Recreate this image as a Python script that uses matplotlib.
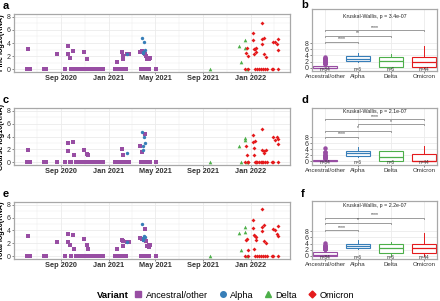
import pandas as pd
import matplotlib.pyplot as plt
import matplotlib.dates as mdates
from matplotlib.lines import Line2D

plt.rcParams['font.family'] = ['Liberation Sans', 'DejaVu Sans']

variants = ['Ancestral/other', 'Alpha', 'Delta', 'Omicron']
colors = ['#984EA3', '#377EB8', '#4DAF4A', '#E41A1C']
markers = ['s', 'o', '^', 'D']
n_labels = ['n=84', 'n=6', 'n=6', 'n=44']

# ---- time series data (one entry per sample: fine / coarse / total) ----
anc_dates = ['2020-06-05', '2020-06-08', '2020-06-12', '2020-07-17', '2020-07-23', '2020-08-20',
             '2020-09-10', '2020-09-17', '2020-09-19', '2020-09-22', '2020-09-25', '2020-10-02',
             '2020-10-04', '2020-10-09', '2020-10-15', '2020-10-19', '2020-10-28', '2020-10-30',
             '2020-11-03', '2020-11-05', '2020-11-09', '2020-11-13', '2020-11-19', '2020-11-26',
             '2020-12-03', '2020-12-10', '2020-12-16', '2021-01-17', '2021-01-21', '2021-01-23',
             '2021-01-28', '2021-02-01', '2021-02-04', '2021-02-06', '2021-02-07', '2021-02-09',
             '2021-02-14', '2021-02-16', '2021-02-23', '2021-03-23', '2021-03-25', '2021-03-27',
             '2021-03-30', '2021-04-02', '2021-04-05', '2021-04-06', '2021-04-07', '2021-04-08',
             '2021-04-13', '2021-04-14', '2021-04-17', '2021-04-15', '2021-05-03']
anc_fine = [0, 3.1, 0, 0, 0, 2.3, 0, 2.3, 3.5, 1.8, 0, 2.8, 0, 0, 0, 0, 0, 2.7, 0, 1.6, 0, 0, 0, 0,
            0, 0, 0, 0, 1.1, 0, 0, 0, 2.6, 2.0, 1.5, 0, 0, 2.3, 2.3, 2.7, 0, 2.8, 0, 2.5, 2.4, 2.0,
            0, 1.6, 1.5, 1.8, 1.7, 0, 0]
anc_coarse = [0, 1.9, 0, 0, 0, 0, 0, 1.7, 3.0, 0, 0, 3.1, 1.2, 0, 0, 0, 0, 1.9, 0, 1.3, 1.2, 0, 0, 0,
              0, 0, 0, 0, 0, 0, 0, 0, 2.1, 1.1, 0, 0, 0, 0, 0, 2.5, 0, 1.6, 0, 0, 4.4, 0,
              0, 0, 0, 0, 0, 0, 0]
anc_total = [0, 3.1, 0, 0, 0, 2.3, 0, 2.3, 3.5, 1.7, 0, 3.3, 1.1, 0, 0, 0, 0, 2.7, 0, 1.7, 1.1, 0, 0, 0,
             0, 0, 0, 0, 1.1, 0, 0, 0, 2.5, 2.4, 1.6, 0, 0, 2.3, 2.3, 2.9, 0, 2.7, 0, 2.5, 4.3, 2.4,
             0, 1.6, 1.4, 1.8, 1.7, 0, 0]

alpha_dates = ['2021-02-16', '2021-03-26', '2021-03-29', '2021-03-31', '2021-04-02', '2021-04-03']
alpha_fine = [2.3, 4.7, 2.5, 2.6, 4.1, 3.0]
alpha_coarse = [1.4, 4.7, 2.6, 1.9, 4.0, 3.0]
alpha_total = [2.3, 5.0, 2.8, 2.5, 3.1, 3.0]

delta_dates = ['2021-09-17', '2021-12-03', '2021-12-07', '2021-12-16', '2021-12-18', '2021-12-22']
delta_fine = [0, 3.6, 1.1, 4.5, 3.3, 0]
delta_coarse = [0, 2.6, 0, 3.7, 3.5, 0]
delta_total = [0, 3.6, 1.0, 4.5, 3.7, 0]

omi_dates = ['2021-12-18', '2021-12-20', '2021-12-22', '2021-12-24', '2021-12-26', '2022-01-07',
             '2022-01-08', '2022-01-09', '2022-01-10', '2022-01-11', '2022-01-13', '2022-01-14',
             '2022-01-15', '2022-01-18', '2022-01-23', '2022-01-27', '2022-01-29', '2022-01-30',
             '2022-01-31', '2022-02-02', '2022-02-03', '2022-02-05', '2022-02-07', '2022-02-09',
             '2022-02-11', '2022-02-24', '2022-02-27', '2022-02-28', '2022-03-05', '2022-03-09',
             '2022-03-11', '2022-03-12', '2022-03-13']
omi_fine = [0, 2.5, 3.3, 2.0, 0, 5.5, 4.4, 3.1, 2.3, 3.1, 0, 3.2, 2.7, 0, 0, 0, 3.9, 7.1, 4.6, 0,
            4.8, 2.4, 0, 1.9, 0, 0, 0, 4.2, 4.2, 3.8, 4.6, 2.9, 0]
omi_coarse = [0, 2.5, 1.1, 0, 0, 4.3, 3.2, 2.2, 1.2, 3.3, 0, 0, 0, 0, 0, 0, 0, 5.2, 1.9, 0,
              1.4, 1.7, 0, 1.9, 0, 0, 0, 3.9, 3.4, 4.0, 3.6, 2.8, 0]
omi_total = [0, 2.5, 2.7, 1.0, 0, 5.6, 4.4, 3.3, 1.2, 3.2, 0, 2.5, 3.0, 0, 0, 0, 3.9, 7.3, 4.6, 0,
             4.9, 2.4, 0, 2.1, 0, 0, 0, 4.3, 4.1, 3.5, 4.7, 3.2, 0]

# ---- box summaries: q1, median, q3, whisker low, whisker high ----
fine_box = [(0, 0, 0.6, 0, 0.9), (2.2, 2.75, 3.8, 2.0, 4.7), (0.3, 2.1, 3.4, 0, 4.5), (0.2, 2.0, 3.4, 0, 7.1)]
coarse_box = [(0, 0, 0.4, 0, 0.6), (1.8, 2.7, 3.6, 1.3, 4.7), (0, 1.4, 3.3, 0, 3.6), (0, 0.2, 2.4, 0, 5.2)]
total_box = [(0, 0.2, 1.3, 0, 1.8), (2.5, 3.1, 4.0, 2.3, 5.0), (1.0, 2.4, 3.8, 0, 4.5), (0.8, 2.6, 4.0, 0, 7.3)]

fine_pairs = [(0, 1, 8.4, '****'), (0, 2, 10.4, '**'), (0, 3, 12.2, '****')]
coarse_pairs = [(0, 1, 8.1, '****'), (0, 2, 10.2, '*'), (1, 3, 12.3, '*'), (0, 3, 14.0, '****')]
total_pairs = [(0, 1, 8.4, '****'), (0, 2, 10.9, '*'), (0, 3, 12.5, '****')]

kw_text = ['Kruskal-Wallis, p = 3.4e-07', 'Kruskal-Wallis, p = 2.1e-07', 'Kruskal-Wallis, p = 2.2e-07']

tick_dates = ['2020-09-01', '2021-01-01', '2021-05-01', '2021-09-01', '2022-01-01']
minor_dates = ['2020-07-01', '2020-11-01', '2021-03-01', '2021-07-01', '2021-11-01', '2022-03-01']

W, H = 440, 301
fig = plt.figure(figsize=(4.4, 3.01), dpi=100)


def px(x0, y0, x1, y1):
    return [x0 / W, 1 - y1 / H, (x1 - x0) / W, (y1 - y0) / H]


GRID = '#ebebeb'
FRAME = '#a8a8a8'


def style_frame(ax):
    for s in ax.spines.values():
        s.set_color(FRAME)
        s.set_linewidth(0.9)
    ax.tick_params(length=1.5, width=0.5, color='#555555', pad=1)


def time_panel(rect, key, ylabel, letter, letter_y):
    ax = fig.add_axes(px(*rect))
    style_frame(ax)
    series = [(anc_dates, {'f': anc_fine, 'c': anc_coarse, 't': anc_total}),
              (alpha_dates, {'f': alpha_fine, 'c': alpha_coarse, 't': alpha_total}),
              (delta_dates, {'f': delta_fine, 'c': delta_coarse, 't': delta_total}),
              (omi_dates, {'f': omi_fine, 'c': omi_coarse, 't': omi_total})]
    sizes = [6, 6, 7, 4]
    for i, (d, vals) in enumerate(series):
        ax.scatter(pd.to_datetime(d), vals[key], s=sizes[i], marker=markers[i],
                   color=colors[i], linewidths=0, zorder=3)
    ax.set_xlim(pd.Timestamp('2020-05-02'), pd.Timestamp('2022-04-12'))
    ax.set_ylim(-0.4, 8.4)
    ax.set_yticks([0, 2, 4, 6, 8])
    ax.set_yticks([1, 3, 5, 7], minor=True)
    ax.set_xticks(pd.to_datetime(tick_dates))
    ax.set_xticks(pd.to_datetime(minor_dates), minor=True)
    ax.xaxis.set_major_formatter(mdates.DateFormatter('%b %Y'))
    ax.tick_params(axis='both', which='minor', length=0)
    ax.grid(True, which='major', color=GRID, lw=0.6)
    ax.grid(True, which='minor', color=GRID, lw=0.35)
    ax.set_axisbelow(True)
    for t in ax.get_xticklabels():
        t.set_fontsize(5.3)
        t.set_fontweight('bold')
        t.set_color('#333333')
    for t in ax.get_yticklabels():
        t.set_fontsize(5)
        t.set_color('#333333')
    ax.set_ylabel(ylabel, fontsize=5.2, fontweight='bold')
    ax.yaxis.set_label_coords(-(rect[0] - 5.5) / (rect[2] - rect[0]), 0.5)
    fig.text(3 / W, 1 - letter_y / H, letter, fontsize=8, fontweight='bold', va='baseline')
    return ax


def box_panel(rect, boxes, key, pairs, kw, ylim, letter, letter_y):
    ax = fig.add_axes(px(*rect))
    style_frame(ax)
    anc_vals = {'f': anc_fine, 'c': anc_coarse, 't': anc_total}[key]
    for i, (q1, med, q3, lo, hi) in enumerate(boxes):
        fl = [v for v in anc_vals if v > hi] if i == 0 else []
        st = [{'q1': q1, 'med': med, 'q3': q3, 'whislo': lo, 'whishi': hi, 'fliers': fl}]
        c = colors[i]
        ax.bxp(st, positions=[i + 1], widths=0.75, showcaps=False, patch_artist=True,
               boxprops=dict(facecolor='white', edgecolor=c, linewidth=0.8),
               medianprops=dict(color=c, linewidth=0.9),
               whiskerprops=dict(color=c, linewidth=0.7),
               flierprops=dict(marker='o', markersize=2.2, markerfacecolor=c,
                               markeredgecolor=c, linestyle='none'))
        ax.text(i + 1, -0.5, n_labels[i], fontsize=3.4, ha='center', va='center', color='#333333')
    for a, b, y, lab in pairs:
        x0, x1 = a + 1, b + 1
        ax.plot([x0, x0, x1, x1], [y - 0.35, y, y, y - 0.35], color='#8c8c8c', lw=0.6)
        ax.text((x0 + x1) / 2, y + 0.15, lab, fontsize=3.6, ha='center', va='bottom', color='#333333')
    ax.text(2.5, kw_y[key], kw, fontsize=3.8, ha='center', va='center', color='#222222')
    ax.set_xlim(0.6, 4.4)
    ax.set_ylim(*ylim)
    ax.set_yticks([0, 2, 4, 6, 8])
    ax.set_xticks([1, 2, 3, 4])
    ax.set_xticklabels(variants, fontsize=4.4, color='#333333')
    for t in ax.get_yticklabels():
        t.set_fontsize(5)
        t.set_color('#333333')
    ax.grid(True, color=GRID, lw=0.6)
    ax.set_axisbelow(True)
    fig.text(301 / W, 1 - letter_y / H, letter, fontsize=8, fontweight='bold', va='baseline')
    return ax


kw_y = {'f': 16.6, 'c': 16.6, 't': 16.5}

time_panel((14, 14, 290, 72), 'f', 'Fine log10(RNA)', 'a', 9)
time_panel((14, 108, 290, 165), 'c', 'Coarse log10(RNA)', 'c', 103)
time_panel((14, 202, 290, 259), 't', 'Total log10(RNA)', 'e', 197)

box_panel((312, 9, 437, 71), fine_box, 'f', fine_pairs, kw_text[0], (-1.1, 19.2), 'b', 8.5)
box_panel((312, 108, 437, 165), coarse_box, 'c', coarse_pairs, kw_text[1], (-1.2, 17.7), 'd', 103)
box_panel((312, 201, 437, 259), total_box, 't', total_pairs, kw_text[2], (-1.1, 18.0), 'f', 197)

handles = [Line2D([], [], marker=markers[i], color=colors[i], linestyle='none',
                  markersize=4 if i != 3 else 3.5) for i in range(4)]
fig.text(129 / W, 6 / H, 'Variant', fontsize=6.8, fontweight='bold', ha='right', va='center')
fig.legend(handles, variants, loc='center left', bbox_to_anchor=(132 / W, 6 / H), ncol=4,
           frameon=False, fontsize=6.6, handletextpad=0.1, columnspacing=0.9, handlelength=1.4,
           borderpad=0, borderaxespad=0)

fig.savefig('out.png', dpi=100)
